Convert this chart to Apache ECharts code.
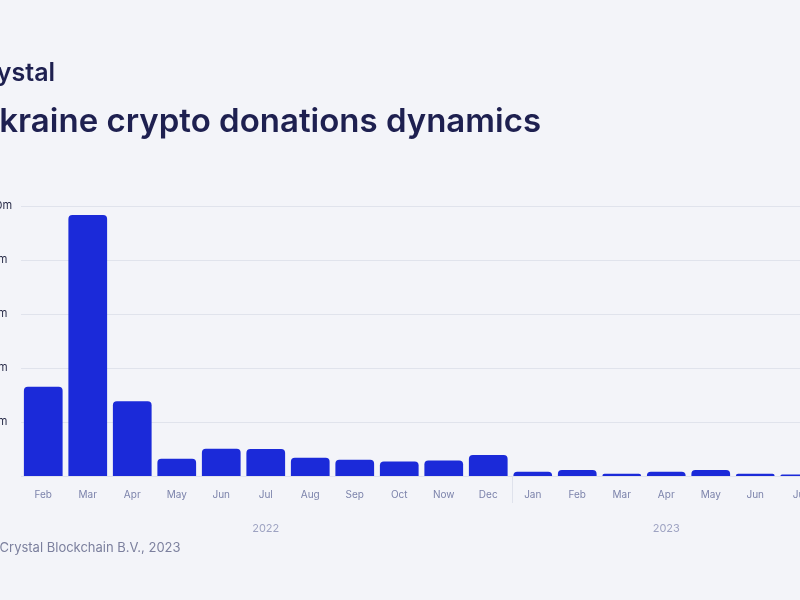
<!DOCTYPE html>
<html>
<head>
<meta charset="utf-8">
<script src="https://cdn.jsdelivr.net/npm/echarts@6/dist/echarts.min.js"></script>
<style>
html,body{margin:0;padding:0;background:#f3f4f9;}
#c{width:800px;height:600px;}
</style>
</head>
<body>
<div id="c"></div>
<script>
const months = ['Feb','Mar','Apr','May','Jun','Jul','Aug','Sep','Oct','Now','Dec','Jan','Feb','Mar','Apr','May','Jun','Jul'];
const years = ['2022','2022','2022','2022','2022','2022','2022','2022','2022','2022','2022','2023','2023','2023','2023','2023','2023','2023'];
const donations = [33.1, 96.7, 27.7, 6.4, 10.1, 10.0, 6.8, 6.0, 5.4, 5.7, 7.8, 1.6, 2.2, 0.8, 1.6, 2.2, 0.8, 0.6];
const yTicks = [0, 20, 40, 60, 80, 100];
const titleText = 'Ukraine crypto donations dynamics';
const brandText = 'Crystal';
const footerText = '\u00A9 Crystal Blockchain B.V., 2023';

const chart = echarts.init(document.getElementById('c'));
const yearLabelIdx = [5, 14];
const textGraphics = [
  { type: 'text', left: -32, top: 61, style: { text: brandText, fontSize: 25, fontWeight: 600, fill: '#1e2050', fontFamily: 'Inter' } },
  { type: 'text', left: -25, top: 106, style: { text: titleText, fontSize: 33, fontWeight: 600, fill: '#1e2050', fontFamily: 'Inter' } },
  { type: 'text', left: -16, top: 542, style: { text: footerText, fontSize: 13, fill: '#7c809e', fontFamily: 'Inter' } }
];
chart.setOption({
  backgroundColor: '#f3f4f9',
  animation: false,
  grid: { left: 21, top: 206, width: 801, height: 270, containLabel: false, outerBoundsMode: 'none' },
  xAxis: [{
    type: 'category',
    data: months,
    boundaryGap: true,
    axisLine: { show: false },
    axisTick: { show: false },
    axisLabel: { color: '#7c83ab', fontSize: 10, margin: 14, fontFamily: 'Inter' }
  }, {
    type: 'category',
    data: years,
    position: 'bottom',
    offset: 0,
    axisLine: { show: false },
    axisTick: { show: false },
    axisLabel: { color: '#9ea3c2', fontSize: 11, margin: 47, fontFamily: 'Inter',
      interval: (i) => yearLabelIdx.indexOf(i) >= 0 }
  }],
  yAxis: {
    type: 'value',
    min: yTicks[0],
    max: yTicks[yTicks.length - 1],
    interval: 20,
    axisLine: { show: false },
    axisTick: { show: false },
    splitLine: { lineStyle: { color: '#e0e3ec', width: 1 } },
    axisLabel: { color: '#2a2d4a', fontSize: 11, margin: 44, align: 'left', fontFamily: 'Inter',
      formatter: (v) => v === 0 ? '' : '$' + v + 'm' }
  },
  series: [{
    type: 'bar',
    data: donations,
    barCategoryGap: '13%',
    itemStyle: { color: '#1b2ad9', borderRadius: [4, 4, 0, 0] }
  }],
  graphic: textGraphics
});

// year separator between Dec (2022) and Jan (2023), placed via the axis scale
const sepIdx = years.indexOf('2023');
const xa = chart.convertToPixel({ xAxisIndex: 0 }, sepIdx - 1);
const xb = chart.convertToPixel({ xAxisIndex: 0 }, sepIdx);
const xSep = Math.round((xa + xb) / 2) + 1.5;
const y0 = chart.convertToPixel({ yAxisIndex: 0 }, 0);
chart.setOption({
  graphic: textGraphics.concat([{
    type: 'line',
    shape: { x1: xSep, y1: y0, x2: xSep, y2: y0 + 27 },
    style: { stroke: '#dfe2ec', lineWidth: 1 }
  }])
});
</script>
</body>
</html>
